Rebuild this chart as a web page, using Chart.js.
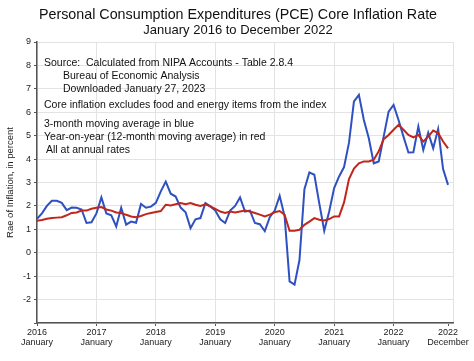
<!DOCTYPE html>
<html><head><meta charset="utf-8">
<script src="https://cdn.jsdelivr.net/npm/chart.js@4/dist/chart.umd.min.js"></script>
<style>html,body{margin:0;padding:0;background:#fff}</style>
</head><body>
<canvas id="c" width="474" height="361"></canvas>
<script>
// Monthly data, January 2016 (index 0) to December 2022 (index 83)
const blue3Month = [
  1.45, 1.68, 2.00, 2.22, 2.22, 2.13, 1.82, 1.93, 1.92, 1.85, 1.27, 1.30,
  1.68, 2.36, 1.68, 1.60, 1.12, 1.92, 1.20, 1.33, 1.28, 2.08, 1.92, 1.97,
  2.13, 2.62, 3.04, 2.52, 2.40, 1.93, 1.73, 1.05, 1.43, 1.48, 2.12, 1.98,
  1.80, 1.43, 1.27, 1.80, 2.00, 2.36, 1.76, 1.80, 1.27, 1.22, 0.92, 1.52,
  1.80, 2.43, 1.55, -1.22, -1.36, -0.31, 2.71, 3.43, 3.33, 2.11, 0.94, 1.76,
  2.76, 3.26, 3.66, 4.70, 6.46, 6.74, 5.67, 4.89, 3.82, 3.90, 4.96, 6.03,
  6.31, 5.67, 4.96, 4.28, 4.29, 5.39, 4.39, 5.13, 4.46, 5.28, 3.57, 2.90
];
const red12Month = [
  1.37, 1.40, 1.45, 1.48, 1.50, 1.52, 1.60, 1.70, 1.72, 1.80, 1.80, 1.88,
  1.92, 1.95, 1.85, 1.80, 1.72, 1.70, 1.62, 1.55, 1.52, 1.57, 1.65, 1.70,
  1.74, 1.78, 2.05, 2.02, 2.07, 2.12, 2.07, 2.12, 2.05, 2.00, 2.07, 1.98,
  1.87, 1.76, 1.70, 1.76, 1.72, 1.76, 1.80, 1.76, 1.70, 1.63, 1.55, 1.63,
  1.73, 1.78, 1.62, 0.94, 0.94, 0.98, 1.19, 1.33, 1.48, 1.41, 1.38, 1.44,
  1.55, 1.55, 2.15, 3.15, 3.60, 3.82, 3.90, 3.90, 3.97, 4.33, 4.85, 5.03,
  5.25, 5.46, 5.25, 5.03, 4.93, 5.03, 4.75, 4.96, 5.22, 5.11, 4.75, 4.46
];
const tickMonthIndex = [0, 12, 24, 36, 48, 60, 72, 83];
const tickYearLabels = ['2016', '2017', '2018', '2019', '2020', '2021', '2022', '2022'];
const tickMonthLabels = ['January', 'January', 'January', 'January', 'January', 'January', 'January', 'December'];
const titleText = 'Personal Consumption Expenditures (PCE) Core Inflation Rate';
const subtitleText = 'January 2016 to December 2022';
const yAxisTitle = 'Rae of Inflation, in percent';
const noteLines = [
  'Source:  Calculated from NIPA Accounts - Table 2.8.4',
  'Bureau of Economic Analysis',
  'Downloaded January 27, 2023',
  'Core inflation excludes food and energy items from the index',
  '3-month moving average in blue',
  'Year-on-year (12-month moving average) in red',
  'All at annual rates'
];

const FONT = '"Liberation Sans", Arial, Helvetica, sans-serif';
const notePos = [[44, 63], [63, 76.5], [63, 89.5], [44, 105], [44, 124.5], [44, 137.5], [46, 150.5]];

const textPlugin = {
  id: 'texts',
  afterDraw(chart) {
    const ctx = chart.ctx;
    ctx.save();
    ctx.fillStyle = '#111';
    ctx.textBaseline = 'middle';
    ctx.textAlign = 'center';
    ctx.font = '14.3px ' + FONT;
    ctx.fillText(titleText, 238, 15);
    ctx.font = '13px ' + FONT;
    ctx.fillText(subtitleText, 238, 30.5);
    ctx.textAlign = 'left';
    ctx.font = '10.5px ' + FONT;
    noteLines.forEach((t, i) => ctx.fillText(t, notePos[i][0], notePos[i][1]));
    ctx.restore();
  }
};

const toPoints = arr => arr.map((v, i) => ({x: i, y: v}));

new Chart(document.getElementById('c'), {
  type: 'line',
  data: {
    datasets: [
      {label: '3-month', data: toPoints(blue3Month), borderColor: '#2f50c0', borderWidth: 2, pointRadius: 0, tension: 0, order: 2},
      {label: '12-month', data: toPoints(red12Month), borderColor: '#c0261a', borderWidth: 2, pointRadius: 0, tension: 0, order: 1}
    ]
  },
  options: {
    responsive: false,
    animation: false,
    devicePixelRatio: 1,
    layout: {padding: {left: 0, right: 21, top: 42, bottom: 0}},
    plugins: {legend: {display: false}, tooltip: {enabled: false}, title: {display: false}},
    scales: {
      x: {
        type: 'linear', min: 0, max: 84,
        afterBuildTicks: s => { s.ticks = tickMonthIndex.concat([84]).map(v => ({value: v})); },
        afterFit: s => { s.height = 38; },
        ticks: {
          autoSkip: false, maxRotation: 0, minRotation: 0, padding: 2,
          color: '#222', font: {family: FONT, size: 9, lineHeight: 1.1},
          callback: (v) => { const k = tickMonthIndex.indexOf(v); return k < 0 ? '' : [tickYearLabels[k], tickMonthLabels[k]]; }
        },
        grid: {
          color: c => (c.tick && c.tick.value === 83) ? 'rgba(0,0,0,0)' : '#e3e3e3',
          tickColor: c => (c.tick && c.tick.value === 84) ? 'rgba(0,0,0,0)' : '#555',
          tickLength: 3, lineWidth: 1
        },
        border: {color: '#555', width: 1.5}
      },
      y: {
        min: -3, max: 9,
        afterFit: s => { s.width = 37; },
        ticks: {
          stepSize: 1, padding: 3, color: '#222', font: {family: FONT, size: 9},
          callback: v => v === -3 ? '' : String(v)
        },
        grid: {color: '#e3e3e3', tickColor: '#555', tickLength: 3, lineWidth: 1},
        border: {color: '#555', width: 1.5},
        title: {display: true, text: yAxisTitle, color: '#222', font: {family: FONT, size: 9.5}, padding: {top: 5, bottom: 0}}
      }
    }
  },
  plugins: [textPlugin]
});
</script>
</body></html>
